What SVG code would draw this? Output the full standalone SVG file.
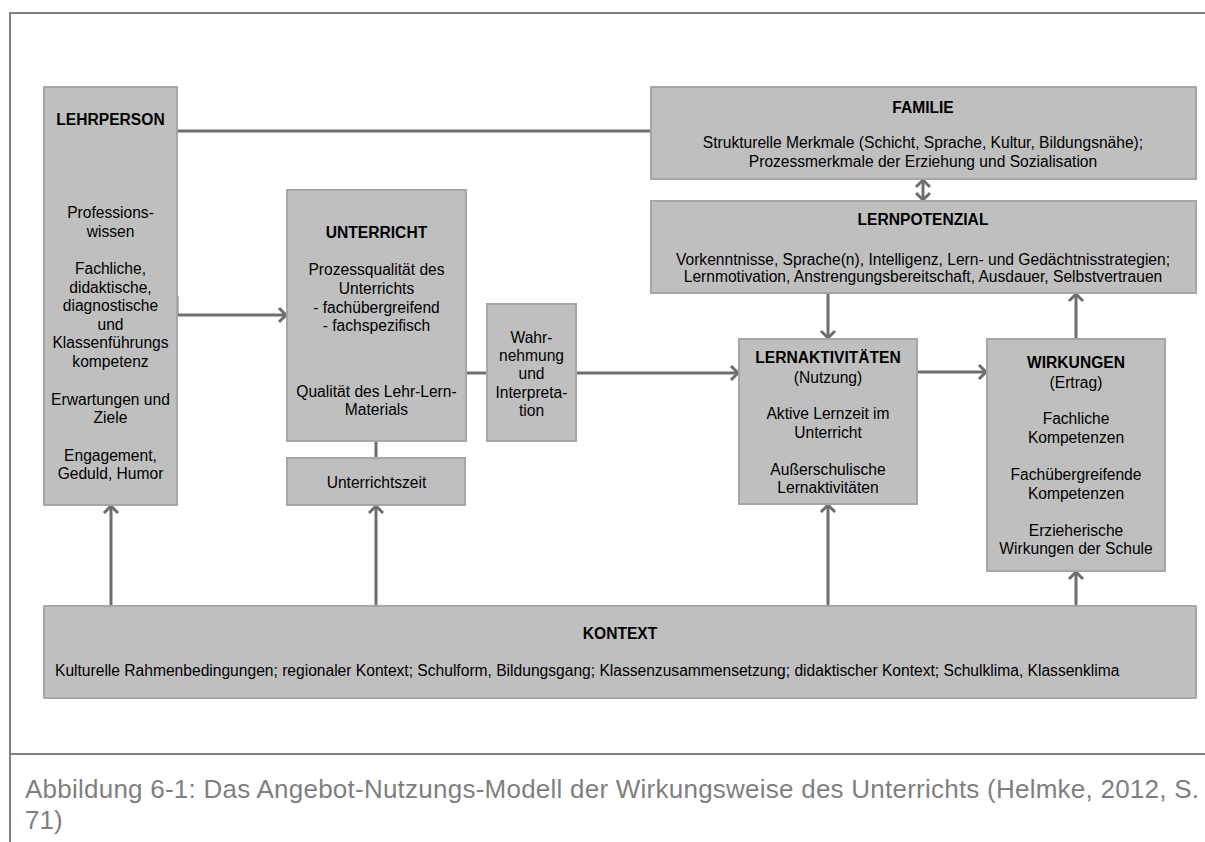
<svg xmlns="http://www.w3.org/2000/svg" width="1205" height="842" viewBox="0 0 1205 842">
<style>
.box{fill:#bfbfbf;stroke:#a6a6a6;stroke-width:2}
.t{font-family:"Liberation Sans",Arial,sans-serif;font-size:15.6px;fill:#000;text-anchor:middle}
.b{font-weight:bold}
.l{text-anchor:start}
.con{fill:none;stroke:#6e6e6e;stroke-width:3}
.frame{fill:none;stroke:#808080;stroke-width:2}
.cap{font-family:"Liberation Sans",Arial,sans-serif;font-size:26px;fill:#7f7f7f}
</style>
<defs>
<marker id="arr" markerUnits="userSpaceOnUse" markerWidth="16" markerHeight="18" refX="8" refY="8" orient="auto-start-reverse" overflow="visible">
<path d="M1,1 L8,8 L1,15" fill="none" stroke="#6e6e6e" stroke-width="3"/>
</marker>
</defs>
<rect width="1205" height="842" fill="#fff"/>
<g id="frame">
<path class="frame" d="M10,842 V13 H1205"/>
<path class="frame" d="M10,754 H1205"/>
</g>
<g id="connectors">
<path class="con" d="M177,131 H651"/>
<path class="con" d="M177,296 V315 H286" marker-end="url(#arr)"/>
<path class="con" d="M466,373 H487"/>
<path class="con" d="M376,441 V458"/>
<path class="con" d="M576,373 H738" marker-end="url(#arr)"/>
<path class="con" d="M828,293 V338" marker-end="url(#arr)"/>
<path class="con" d="M917,372 H986" marker-end="url(#arr)"/>
<path class="con" d="M1076,339 V294" marker-end="url(#arr)"/>
<path class="con" d="M923,180 V200" marker-start="url(#arr)" marker-end="url(#arr)"/>
<path class="con" d="M111,606 V506" marker-end="url(#arr)"/>
<path class="con" d="M376,606 V506" marker-end="url(#arr)"/>
<path class="con" d="M828,606 V505" marker-end="url(#arr)"/>
<path class="con" d="M1076,606 V572" marker-end="url(#arr)"/>
</g>
<g id="lehrperson">
<rect class="box" x="44" y="87" width="133" height="418"/>
<text class="t b" x="110.5" y="124.5">LEHRPERSON</text>
<text class="t" x="110.5" y="217.5">Professions-</text>
<text class="t" x="110.5" y="236.5">wissen</text>
<text class="t" x="110.5" y="273.5">Fachliche,</text>
<text class="t" x="110.5" y="292.5">didaktische,</text>
<text class="t" x="110.5" y="310.5">diagnostische</text>
<text class="t" x="110.5" y="329.5">und</text>
<text class="t" x="110.5" y="347.5">Klassenführungs</text>
<text class="t" x="110.5" y="366.5">kompetenz</text>
<text class="t" x="110.5" y="404.5">Erwartungen und</text>
<text class="t" x="110.5" y="422.5">Ziele</text>
<text class="t" x="110.5" y="460.5">Engagement,</text>
<text class="t" x="110.5" y="478.5">Geduld, Humor</text>
</g>
<g id="unterricht">
<rect class="box" x="287" y="190" width="179" height="251"/>
<text class="t b" x="376.5" y="237.5">UNTERRICHT</text>
<text class="t" x="376.5" y="274.5">Prozessqualität des</text>
<text class="t" x="376.5" y="293.5">Unterrichts</text>
<text class="t" x="376.5" y="312.5">- fachübergreifend</text>
<text class="t" x="376.5" y="330.5">- fachspezifisch</text>
<text class="t" x="376.5" y="396.5">Qualität des Lehr-Lern-</text>
<text class="t" x="376.5" y="414.5">Materials</text>
</g>
<g id="unterrichtszeit">
<rect class="box" x="287" y="458" width="178" height="47"/>
<text class="t" x="376.5" y="487.5">Unterrichtszeit</text>
</g>
<g id="wahrnehmung">
<rect class="box" x="487" y="304" width="89" height="137"/>
<text class="t" x="531.5" y="342.5">Wahr-</text>
<text class="t" x="531.5" y="360.5">nehmung</text>
<text class="t" x="531.5" y="378.5">und</text>
<text class="t" x="531.5" y="397.5">Interpreta-</text>
<text class="t" x="531.5" y="415.5">tion</text>
</g>
<g id="familie">
<rect class="box" x="651" y="87" width="545" height="92"/>
<text class="t b" x="923" y="112.5">FAMILIE</text>
<text class="t" x="923" y="147.5">Strukturelle Merkmale (Schicht, Sprache, Kultur, Bildungsnähe);</text>
<text class="t" x="923" y="166.5">Prozessmerkmale der Erziehung und Sozialisation</text>
</g>
<g id="lernpotenzial">
<rect class="box" x="651" y="201" width="545" height="92"/>
<text class="t b" x="923" y="224.5">LERNPOTENZIAL</text>
<text class="t" x="923" y="264.5">Vorkenntnisse, Sprache(n), Intelligenz, Lern- und Gedächtnisstrategien;</text>
<text class="t" x="923" y="282">Lernmotivation, Anstrengungsbereitschaft, Ausdauer, Selbstvertrauen</text>
</g>
<g id="lernaktivitaeten">
<rect class="box" x="739" y="339" width="178" height="165"/>
<text class="t b" x="828" y="362.5">LERNAKTIVITÄTEN</text>
<text class="t" x="828" y="382.5">(Nutzung)</text>
<text class="t" x="828" y="418.5">Aktive Lernzeit im</text>
<text class="t" x="828" y="437.5">Unterricht</text>
<text class="t" x="828" y="474.5">Außerschulische</text>
<text class="t" x="828" y="492.5">Lernaktivitäten</text>
</g>
<g id="wirkungen">
<rect class="box" x="987" y="339" width="178" height="232"/>
<text class="t b" x="1076" y="367.5">WIRKUNGEN</text>
<text class="t" x="1076" y="387.5">(Ertrag)</text>
<text class="t" x="1076" y="423.5">Fachliche</text>
<text class="t" x="1076" y="442.5">Kompetenzen</text>
<text class="t" x="1076" y="479.5">Fachübergreifende</text>
<text class="t" x="1076" y="498.5">Kompetenzen</text>
<text class="t" x="1076" y="535.5">Erzieherische</text>
<text class="t" x="1076" y="553.5">Wirkungen der Schule</text>
</g>
<g id="kontext">
<rect class="box" x="44" y="606" width="1152" height="92"/>
<text class="t b" x="620" y="638.5">KONTEXT</text>
<text class="t l" x="55" y="675.5">Kulturelle Rahmenbedingungen; regionaler Kontext; Schulform, Bildungsgang; Klassenzusammensetzung; didaktischer Kontext; Schulklima, Klassenklima</text>
</g>
<g id="caption">
<text class="cap" x="25" y="798" textLength="1174" lengthAdjust="spacing">Abbildung 6-1: Das Angebot-Nutzungs-Modell der Wirkungsweise des Unterrichts (Helmke, 2012, S.</text>
<text class="cap" x="25" y="829">71)</text>
</g>
</svg>
